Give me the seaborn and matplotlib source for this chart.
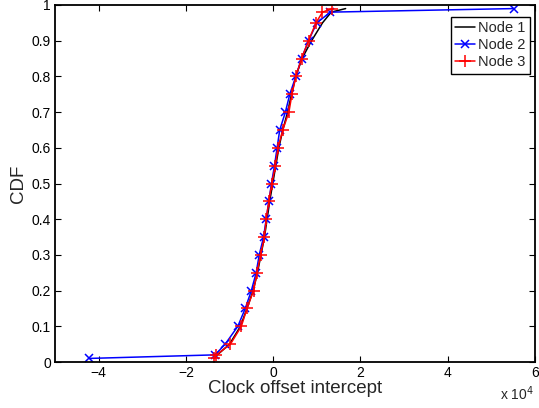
import numpy as np
import pandas as pd
import matplotlib
matplotlib.use("Agg")
import matplotlib.pyplot as plt
import seaborn as sns

# CDF levels (shared)
cdf_levels = [0.01, 0.02, 0.05, 0.10, 0.15, 0.20, 0.25, 0.30, 0.35, 0.40, 0.45,
              0.50, 0.55, 0.60, 0.65, 0.70, 0.75, 0.80, 0.85, 0.90, 0.95, 0.98, 0.99]

# Clock offset intercept values (x 10^4)
node1 = [-1.35, -1.28, -1.00, -0.75, -0.60, -0.46, -0.36, -0.28, -0.20, -0.14, -0.08,
         -0.01, 0.06, 0.13, 0.22, 0.33, 0.42, 0.52, 0.66, 0.88, 1.13, 1.33, 1.66]
node2 = [-4.22, -1.33, -1.10, -0.81, -0.64, -0.50, -0.39, -0.32, -0.22, -0.16, -0.10,
         -0.04, 0.03, 0.09, 0.15, 0.28, 0.38, 0.52, 0.65, 0.81, 1.00, 1.31, 5.52]
node3 = [-1.36, -1.30, -0.98, -0.73, -0.60, -0.45, -0.37, -0.29, -0.20, -0.16, -0.10,
         -0.03, 0.05, 0.11, 0.22, 0.36, 0.43, 0.52, 0.65, 0.81, 0.98, 1.13, 1.35]

names = ["Node 1", "Node 2", "Node 3"]
xticks = [-4, -2, 0, 2, 4, 6]
yticks = [0, 0.1, 0.2, 0.3, 0.4, 0.5, 0.6, 0.7, 0.8, 0.9, 1]
ytick_labels = ["0", "0.1", "0.2", "0.3", "0.4", "0.5", "0.6", "0.7", "0.8", "0.9", "1"]

df = pd.DataFrame({
    "x": node1 + node2 + node3,
    "cdf": cdf_levels * 3,
    "Node": [names[0]] * len(node1) + [names[1]] * len(node2) + [names[2]] * len(node3),
})

sns.set_style("ticks")
plt.rcParams["font.family"] = ["Liberation Sans", "DejaVu Sans"]

fig = plt.figure(figsize=(5.39, 4.08), dpi=100)
ax = fig.add_axes([55 / 539, 1 - 362 / 408, 480 / 539, 357 / 408])

styles = {
    "Node 1": dict(color="black", marker=None, markersize=0),
    "Node 2": dict(color=(0, 0, 1), marker="x", markersize=6),
    "Node 3": dict(color=(1, 0, 0), marker="+", markersize=9),
}
for n in names:
    st = styles[n]
    sns.lineplot(data=df[df["Node"] == n], x="x", y="cdf", ax=ax, sort=False,
                 estimator=None, color=st["color"], marker=st["marker"],
                 markersize=st["markersize"], markeredgewidth=1.1,
                 markeredgecolor=st["color"], linewidth=1.1, label=n)

ax.set_xlim(-5, 6)
ax.set_ylim(0, 1)
ax.set_xticks(xticks)
ax.set_xticklabels(["\u2212" + str(-t) if t < 0 else str(t) for t in xticks])
ax.set_yticks(yticks)
ax.set_yticklabels(ytick_labels)
ax.tick_params(direction="in", length=4, width=0.8, top=True, right=True,
               labelsize=10, colors="black", pad=3)
for s in ax.spines.values():
    s.set_visible(True)
    s.set_linewidth(1.3)
    s.set_color("black")

ax.set_xlabel("Clock offset intercept", fontsize=13.5, labelpad=0)
ax.set_ylabel("CDF", fontsize=13.5, labelpad=3)

fig.text(500 / 539, 1 - 400 / 408, r"x 10$^{4}$", fontsize=10, ha="left", va="baseline")

leg = ax.legend(loc="upper right", bbox_to_anchor=(1 - 5 / 480, 1 - 12 / 357),
                frameon=True, fancybox=False, fontsize=10.5, handlelength=1.4,
                handletextpad=0.2, borderpad=0.3, labelspacing=0.2,
                borderaxespad=0, framealpha=1)
leg.get_frame().set_edgecolor("black")
leg.get_frame().set_linewidth(1.0)

fig.savefig("out.png", dpi=100)
